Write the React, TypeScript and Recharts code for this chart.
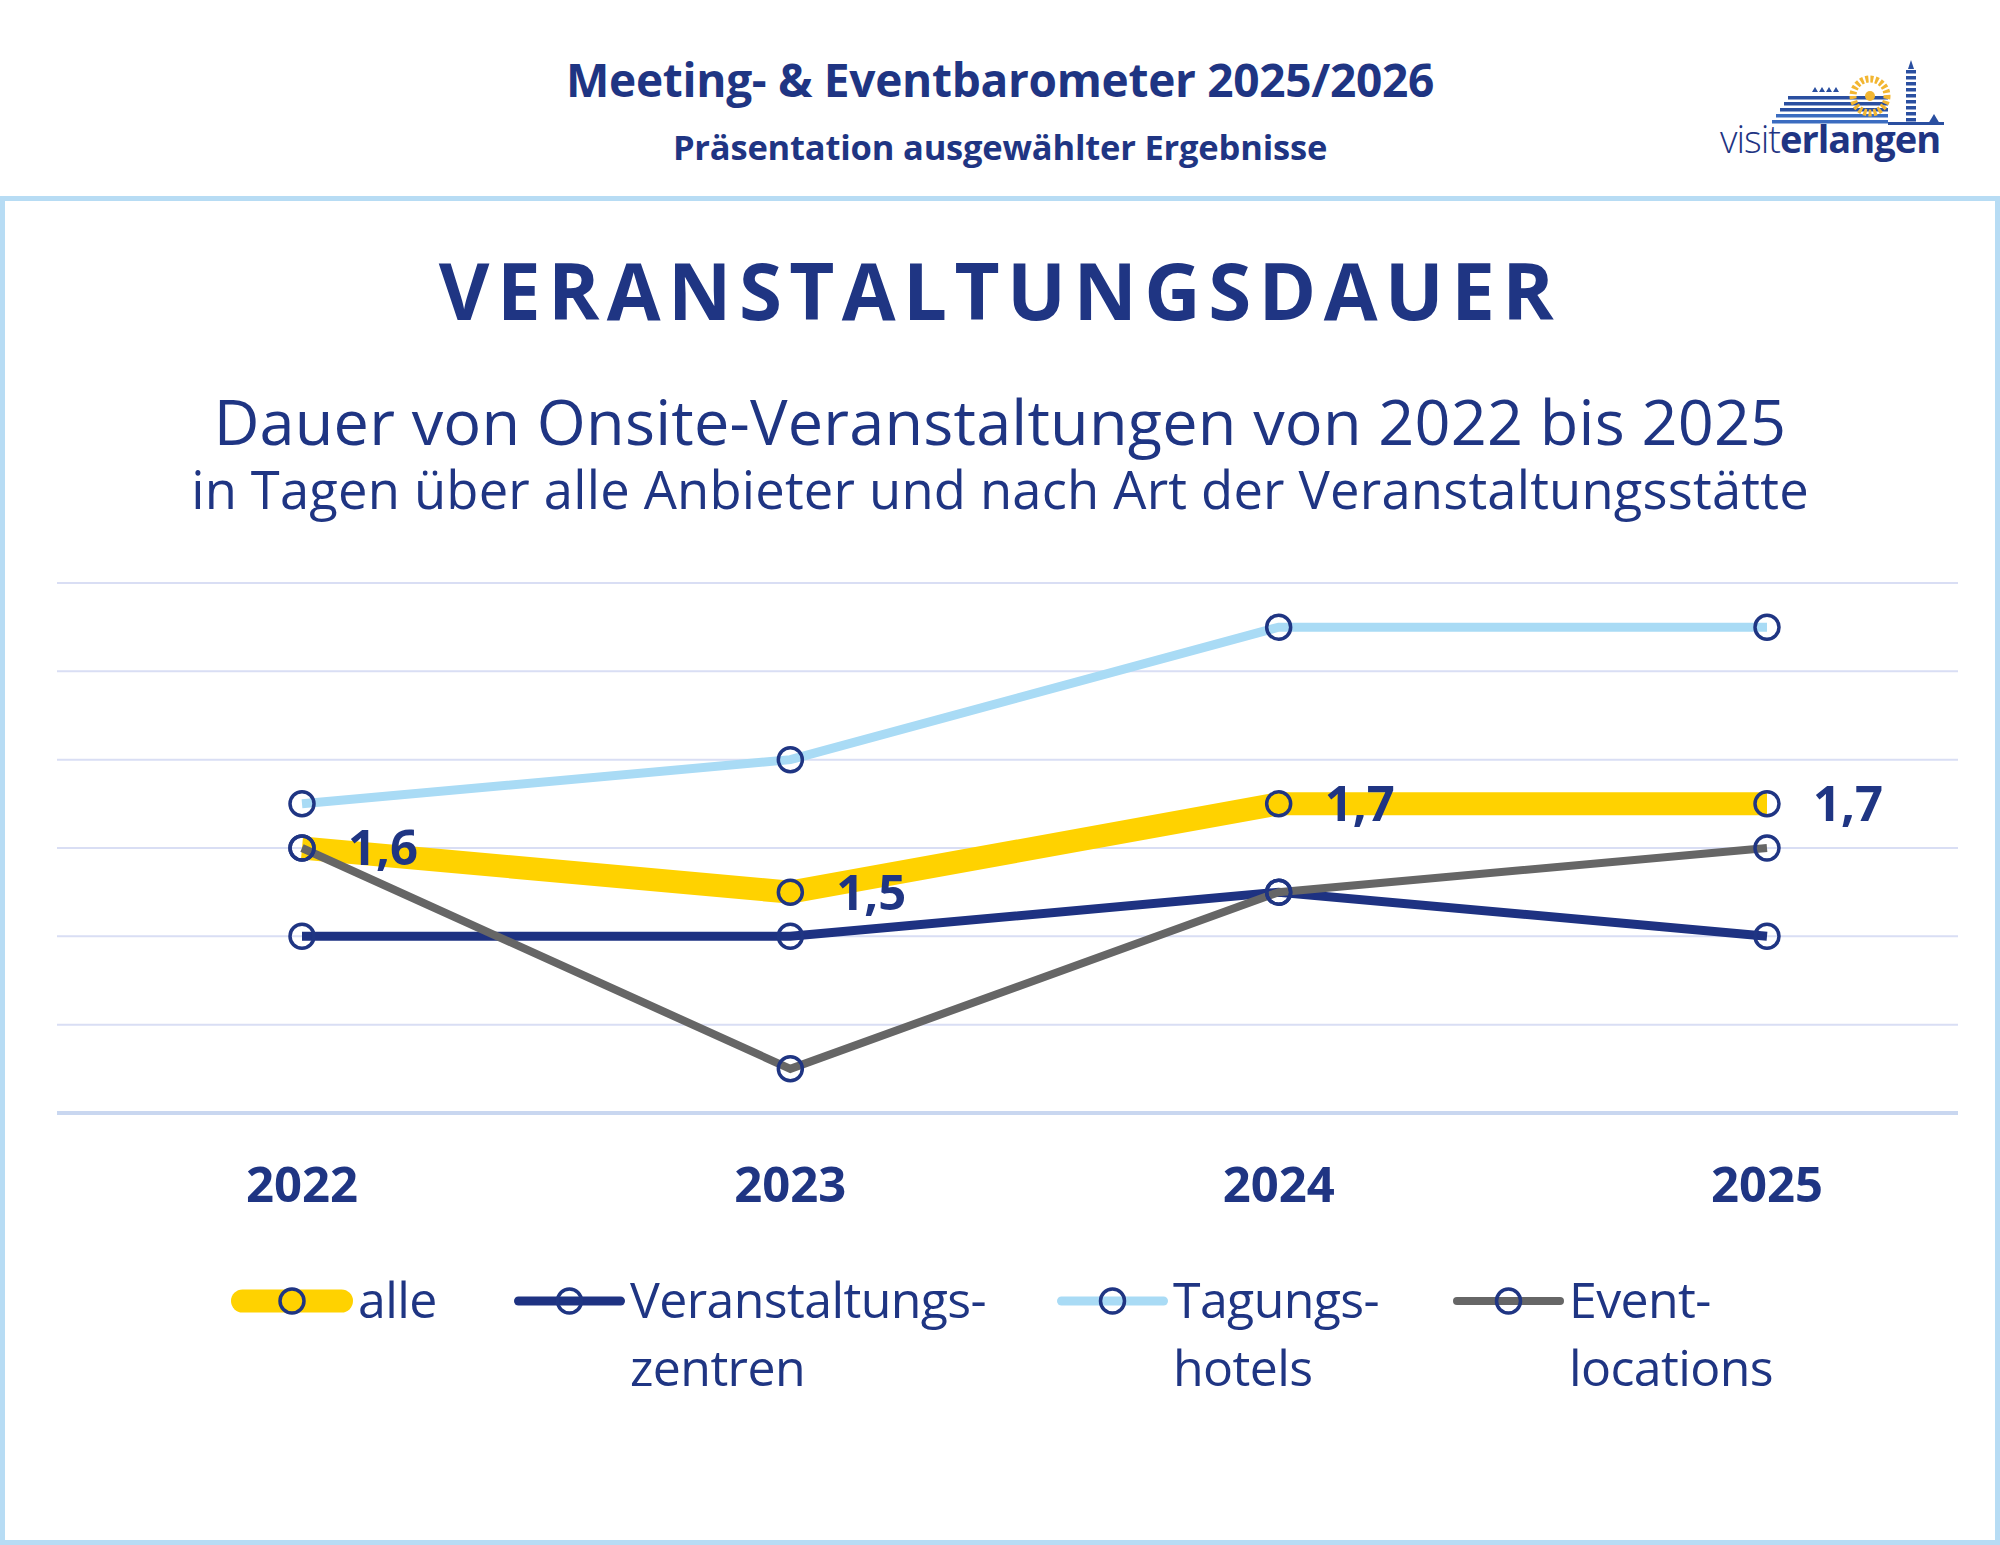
import React from 'react';
import { LineChart, Line, XAxis, YAxis, CartesianGrid, LabelList } from 'recharts';

// Veranstaltungsdauer in Tagen, 2022–2025
const YEARS = ['2022', '2023', '2024', '2025'];
const ALLE = [1.6, 1.5, 1.7, 1.7];
const ZENTREN = [1.4, 1.4, 1.5, 1.4];
const HOTELS = [1.7, 1.8, 2.1, 2.1];
const EVENT = [1.6, 1.1, 1.5, 1.6];
const Y_TICKS = [1.0, 1.2, 1.4, 1.6, 1.8, 2.0, 2.2];

const NAVY = '#1f3583';
const FONT = '"Open Sans", "Noto Sans", sans-serif';

const SERIES = [
  { key: 'alle', lines: ['alle'], color: '#FFD200', width: 23, left: 230, swatch: 124 },
  { key: 'zentren', lines: ['Veranstaltungs-', 'zentren'], color: '#1e3282', width: 9, left: 513, swatch: 113 },
  { key: 'hotels', lines: ['Tagungs-', 'hotels'], color: '#a9dbf5', width: 9, left: 1056, swatch: 113 },
  { key: 'event', lines: ['Event-', 'locations'], color: '#666666', width: 8, left: 1452, swatch: 113 },
];

const data = YEARS.map((year, i) => ({
  year,
  alle: ALLE[i],
  zentren: ZENTREN[i],
  hotels: HOTELS[i],
  event: EVENT[i],
}));

const dot = { r: 12, fill: 'none', stroke: NAVY, strokeWidth: 3.5 };

function Logo() {
  return (
    <div style={{ position: 'absolute', left: 1718, top: 56, width: 230, height: 110 }}>
      <svg width={230} height={72} style={{ position: 'absolute', left: 0, top: 0 }}>
        {[0, 1, 2, 3, 4].map((k) => (
          <rect key={k} x={70 - k * 4} y={40 + k * 6} width={100 + k * 4} height={3.5} fill={k < 3 ? '#2a4fa0' : '#3b6cc0'} />
        ))}
        {[0, 1, 2, 3].map((k) => (
          <polygon key={k} points={`${94 + k * 7},36 ${97 + k * 7},31 ${100 + k * 7},36`} fill="#2a4fa0" />
        ))}
        <circle cx={152} cy={40} r={17} fill="none" stroke="#f2b632" strokeWidth={7} strokeDasharray="3 2" />
        <circle cx={152} cy={40} r={5} fill="#f2b632" />
        {[0, 1, 2, 3, 4, 5, 6, 7, 8].map((k) => (
          <rect key={k} x={188} y={14 + k * 6} width={10} height={3.5} fill="#2a4fa0" />
        ))}
        <polygon points="193,4 190,13 196,13" fill="#2a4fa0" />
        <polygon points="210,68 216,58 222,68" fill="#2a4fa0" />
        <rect x={170} y={66} width={56} height={3} fill="#2a4fa0" />
      </svg>
      <div
        style={{
          position: 'absolute', left: 2, top: 60, fontFamily: FONT, fontSize: 38,
          color: NAVY, lineHeight: '44px', letterSpacing: -1, whiteSpace: 'nowrap',
        }}
      >
        <span style={{ fontWeight: 300 }}>visit</span>
        <span style={{ fontWeight: 700 }}>erlangen</span>
      </div>
    </div>
  );
}

function CenterText({ y, size, weight, spacing = 0, children }: {
  y: number; size: number; weight: number; spacing?: number; children: React.ReactNode;
}) {
  return (
    <div
      style={{
        position: 'absolute', left: 0, width: 2000, top: y - size * 0.575, height: size * 1.15,
        lineHeight: `${size * 1.15}px`, textAlign: 'center', fontFamily: FONT, fontSize: size,
        fontWeight: weight, color: NAVY, letterSpacing: spacing, whiteSpace: 'nowrap',
      }}
    >
      {children}
    </div>
  );
}

function LegendBlock() {
  return (
    <>
      {SERIES.map((s) => (
        <div key={s.key} style={{ position: 'absolute', left: s.left, top: 1267 }}>
          <svg width={s.swatch} height={68} style={{ position: 'absolute', left: 0, top: 0 }}>
            <line
              x1={s.width / 2 + 1} x2={s.swatch - s.width / 2 - 1} y1={34} y2={34}
              stroke={s.color} strokeWidth={s.width} strokeLinecap="round"
            />
            <circle cx={s.swatch / 2} cy={34} r={12} fill="none" stroke={NAVY} strokeWidth={3.5} />
          </svg>
          <div
            style={{
              position: 'absolute', left: s.swatch + 4, top: -2, fontFamily: FONT, fontSize: 50,
              lineHeight: '68px', color: NAVY, whiteSpace: 'nowrap', letterSpacing: -0.6,
            }}
          >
            {s.lines.map((t) => <div key={t}>{t}</div>)}
          </div>
        </div>
      ))}
    </>
  );
}

export default function App() {
  return (
    <div
      style={{
        position: 'absolute', left: 0, top: 0, width: 2000, height: 1545,
        background: '#ffffff', overflow: 'hidden', fontFamily: FONT,
      }}
    >
      {/* Kopfzeile */}
      <CenterText y={79} size={46} weight={700} spacing={-0.3}>Meeting- &amp; Eventbarometer 2025/2026</CenterText>
      <CenterText y={147} size={34.5} weight={700} spacing={-0.2}>Präsentation ausgewählter Ergebnisse</CenterText>
      <Logo />

      {/* Rahmen */}
      <div
        style={{
          position: 'absolute', left: 0, top: 196, width: 2000, height: 1349,
          border: '5px solid #b7dcf4', boxSizing: 'border-box',
        }}
      />

      <CenterText y={291} size={78} weight={700} spacing={7.4}>VERANSTALTUNGSDAUER</CenterText>
      <CenterText y={421} size={63} weight={400} spacing={0.2}>Dauer von Onsite-Veranstaltungen von 2022 bis 2025</CenterText>
      <CenterText y={489} size={52.5} weight={400} spacing={0.2}>in Tagen über alle Anbieter und nach Art der Veranstaltungsstätte</CenterText>

      <div style={{ position: 'absolute', left: 0, top: 0 }}>
        <LineChart
          width={2000}
          height={1545}
          data={data}
          margin={{ top: 583, right: 42, bottom: 332, left: 57 }}
        >
          <CartesianGrid vertical={false} stroke="#d9def4" strokeWidth={2} />
          <XAxis
            dataKey="year"
            height={100}
            axisLine={{ stroke: '#c9d7f0', strokeWidth: 4 }}
            tickLine={false}
            tickSize={0}
            tickMargin={54}
            padding={{ left: 245, right: 191 }}
            tick={{ fill: NAVY, fontSize: 49, fontWeight: 700, fontFamily: FONT }}
          />
          <YAxis hide domain={[1.0, 2.2]} ticks={Y_TICKS} />
          <Line
            dataKey="alle" stroke="#FFD200" strokeWidth={23} dot={dot}
            isAnimationActive={false} strokeLinejoin="miter"
          >
            <LabelList
              dataKey="alle"
              position="right"
              offset={46}
              fill={NAVY}
              fontSize={49}
              fontWeight={700}
              fontFamily={FONT}
              formatter={(v: number) => String(v).replace('.', ',')}
            />
          </Line>
          <Line dataKey="zentren" stroke="#1e3282" strokeWidth={9} dot={dot} isAnimationActive={false} />
          <Line dataKey="hotels" stroke="#a9dbf5" strokeWidth={9} dot={dot} isAnimationActive={false} />
          <Line dataKey="event" stroke="#666666" strokeWidth={8} dot={dot} isAnimationActive={false} />
        </LineChart>
      </div>

      <LegendBlock />
    </div>
  );
}
